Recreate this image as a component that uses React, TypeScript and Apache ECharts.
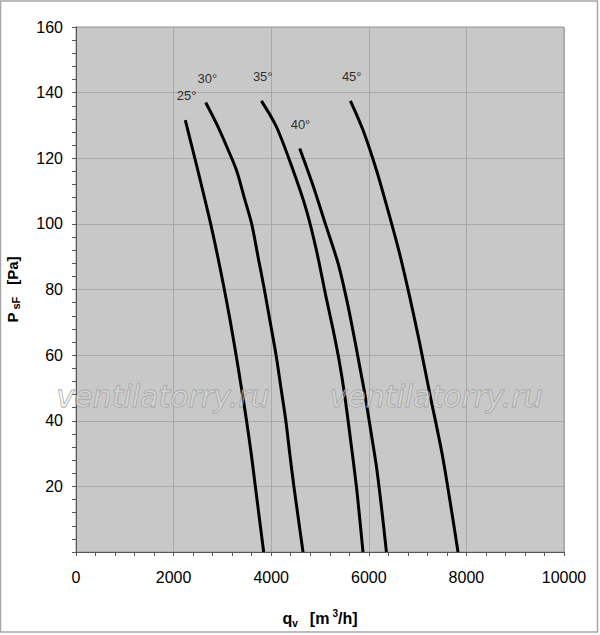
import React, { useEffect, useRef } from "react";
import * as echarts from "echarts";

const q25 = [2240, 2435, 2600, 2760, 2905, 3040, 3165, 3281, 3390, 3495, 3590, 3675, 3760, 3846];
const p25 = [131.6, 120, 110, 100, 90, 80, 70, 60, 50, 40, 30, 20, 10, 0];

const q30 = [2658, 2877, 3090, 3287, 3448, 3600, 3730, 3860, 3980, 4100, 4200, 4300, 4380, 4465, 4558, 4652];
const p30 = [137, 130.6, 123.5, 116.4, 108, 100, 90, 80, 70, 60, 50, 40, 30, 20, 10, 0];

const q35 = [3799, 4107, 4447, 4721, 4926, 5120, 5265, 5390, 5500, 5609, 5746, 5815, 5881];
const p35 = [137.5, 129.6, 116.4, 104.2, 92, 78, 68, 58.5, 48.4, 36.2, 20, 10, 0];

const q40 = [4584, 4850, 5110, 5370, 5560, 5720, 5814, 5916, 6040, 6156, 6265, 6361];
const p40 = [123, 112, 100, 88, 76, 64, 56.5, 48.4, 37, 26.1, 13, 0];

const q45 = [5623, 5881, 6156, 6428, 6630, 6850, 7043, 7248, 7500, 7670, 7828];
const p45 = [137.5, 128.6, 116.4, 102.2, 91, 77, 63.6, 48.4, 30.1, 15, 0];

const curveNames = ["25°", "30°", "35°", "40°", "45°"];
const curveQ = [q25, q30, q35, q40, q45];
const curveP = [p25, p30, p35, p40, p45];

const labelQ = [2265, 2690, 3826, 4600, 5650];
const labelP = [139, 144.3, 145, 130.4, 145];

const xTicks = [0, 2000, 4000, 6000, 8000, 10000];
const yTicks = [0, 20, 40, 60, 80, 100, 120, 140, 160];

const FONT = "Liberation Sans, Arial, sans-serif";

export default function App() {
  const ref = useRef<HTMLDivElement>(null);
  useEffect(() => {
    if (!ref.current) return;
    const chart = echarts.init(ref.current, null, { renderer: "svg" });
    const lineSeries = curveNames.map((name, i) => ({
      type: "line",
      name,
      data: curveQ[i].map((q, j) => [q, curveP[i][j]]),
      showSymbol: false,
      smooth: 0.3,
      lineStyle: { color: "#000", width: 3 },
      z: 3,
    }));
    const watermarkStyle = {
      text: "ventilatorry.ru",
      font: "italic 30px 'DejaVu Sans', sans-serif",
      fill: "rgba(255,255,255,0.25)",
      stroke: "#9c9c9c",
      lineWidth: 0.8,
      textAlign: "center",
      textVerticalAlign: "middle",
    };
    const bold = { fontWeight: "bold", color: "#000", fontFamily: FONT };
    chart.setOption({
      animation: false,
      backgroundColor: "#fff",
      textStyle: { fontFamily: FONT },
      grid: {
        left: 76,
        top: 27,
        right: 36,
        bottom: 83,
        outerBoundsMode: "none",
        containLabel: false,
        show: true,
        backgroundColor: "#c8c8c8",
        borderColor: "#9a9a9a",
        borderWidth: 1,
      },
      xAxis: {
        type: "value",
        min: xTicks[0],
        max: xTicks[xTicks.length - 1],
        interval: 2000,
        name: "{a|q}{s|v}{b|[m}{p|3}{a|/h]}",
        nameLocation: "middle",
        nameGap: 56,
        nameTextStyle: {
          rich: {
            a: { ...bold, fontSize: 16, lineHeight: 20 },
            b: { ...bold, fontSize: 16, lineHeight: 20, padding: [0, 0, 0, 12] },
            s: { ...bold, fontSize: 10, lineHeight: 20, verticalAlign: "bottom" },
            p: { ...bold, fontSize: 10, lineHeight: 20, verticalAlign: "top", padding: [0, 0, 0, 3] },
          },
        },
        axisLine: { show: true, lineStyle: { color: "#555", width: 1 } },
        axisTick: { show: true, length: 4, lineStyle: { color: "#555" } },
        minorTick: { show: true, splitNumber: 5, length: 4, lineStyle: { color: "#555" } },
        axisLabel: {
          fontSize: 16,
          color: "#000",
          fontFamily: FONT,
          margin: 17,
          formatter: (v: number) => String(v),
        },
        splitLine: { show: true, lineStyle: { color: "#a9a9a9", width: 1 } },
      },
      yAxis: {
        type: "value",
        min: yTicks[0],
        max: yTicks[yTicks.length - 1],
        interval: 20,
        name: "{a|P}{s|sF}{b|[Pa]}",
        nameLocation: "middle",
        nameRotate: 90,
        nameGap: 55,
        nameTextStyle: {
          rich: {
            a: { ...bold, fontSize: 15, lineHeight: 18 },
            b: { ...bold, fontSize: 15, lineHeight: 18, padding: [0, 0, 0, 12] },
            s: { ...bold, fontSize: 11, lineHeight: 18, verticalAlign: "bottom", padding: [0, 0, 0, 3] },
          },
        },
        axisLine: { show: true, lineStyle: { color: "#555", width: 1 } },
        axisTick: { show: true, length: 4, lineStyle: { color: "#555" } },
        minorTick: { show: true, splitNumber: 5, length: 4, lineStyle: { color: "#555" } },
        axisLabel: {
          fontSize: 16,
          color: "#000",
          fontFamily: FONT,
          margin: 13,
          formatter: (v: number) => (v === 0 ? "" : String(v)),
        },
        splitLine: { show: true, lineStyle: { color: "#a9a9a9", width: 1 } },
      },
      series: [
        ...lineSeries,
        {
          type: "scatter",
          symbolSize: 0,
          data: curveNames.map((n, i) => ({ name: n, value: [labelQ[i], labelP[i]] })),
          label: {
            show: true,
            position: "inside",
            formatter: "{b}",
            fontSize: 13,
            color: "#000",
            fontFamily: FONT,
          },
          z: 4,
        },
      ],
      graphic: [
        {
          type: "rect",
          shape: { x: 0.5, y: 1, width: 597, height: 631 },
          style: { fill: "none", stroke: "#a6a6a6", lineWidth: 1.5 },
          silent: true,
          z: 10,
        },
        { type: "text", x: 163, y: 396, style: watermarkStyle, silent: true, z: 5 },
        { type: "text", x: 436, y: 396, style: watermarkStyle, silent: true, z: 5 },
      ],
    });
    return () => chart.dispose();
  }, []);
  return (
    <div
      ref={ref}
      style={{ position: "absolute", left: 0, top: 0, width: 600, height: 635 }}
    />
  );
}
